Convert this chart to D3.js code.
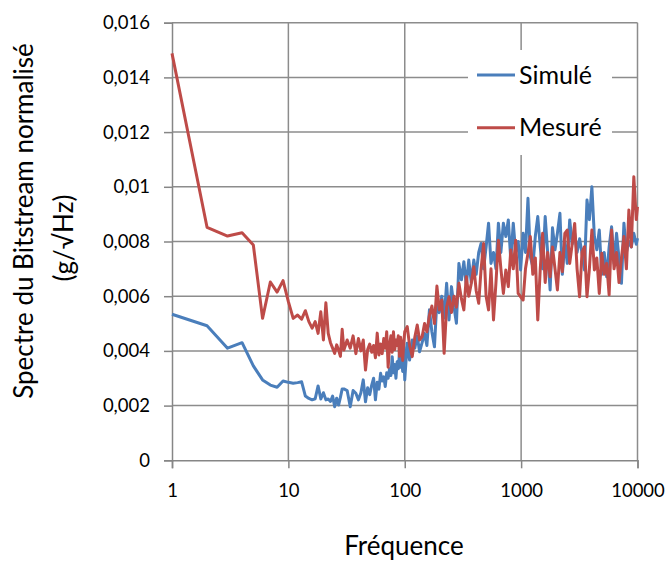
<!DOCTYPE html>
<html lang="fr">
<head>
  <meta charset="UTF-8">
  <title>Spectre du Bitstream</title>
  <style>
    body { margin: 0; background: #fff; }
    text { font-family: Lato, "Open Sans", sans-serif; fill: #000; }
  </style>
</head>
<body>

  <svg id="svg" width="669" height="562"></svg>

  <script src="https://d3js.org/d3.v7.min.js"></script>
  <script>
    // frequencies (Hz)
    const freq = [
      1, 2, 3, 4, 5, 6, 7, 8, 9, 10, 11, 12, 13, 14, 15, 16, 17, 18, 19, 20,
      21, 22, 23, 24, 25, 26, 27, 28, 29, 30,
      32, 34, 36, 38, 40, 42, 44, 46, 48, 50, 52, 54, 56, 58, 60, 62, 64, 66, 68, 70,
      72, 74, 76, 78, 80, 82, 84, 86, 88, 90, 92, 94, 96, 98, 100,
      105, 110, 116, 122, 128, 134, 141, 148, 155, 163, 171, 180, 189, 198, 208, 218,
      229, 240, 252, 265, 278, 292, 307, 322, 338, 355, 373, 392, 411, 432, 453, 476,
      500, 525, 551, 579, 608, 638, 670, 704, 739, 776, 815, 856, 898, 943, 990,
      1040, 1090, 1145, 1200, 1260, 1325, 1390, 1460, 1530, 1610, 1690, 1775, 1860, 1955,
      2050, 2155, 2260, 2375, 2490, 2615, 2745, 2885, 3025, 3180, 3335, 3505, 3680, 3860,
      4055, 4260, 4470, 4695, 4930, 5175, 5435, 5705, 5990, 6290, 6605, 6935, 7280, 7645,
      8030, 8430, 8850, 9295, 9760, 10000
    ]

    const simule = [
      0.00534, 0.00492, 0.00410, 0.00430, 0.00345, 0.00294, 0.00275, 0.00267, 0.00290, 0.00285,
      0.00282, 0.00284, 0.00287, 0.00235, 0.00226, 0.00221, 0.00225, 0.00272, 0.00224, 0.00247,
      0.00221, 0.00224, 0.00215, 0.00235, 0.00196, 0.00227, 0.00202, 0.00230, 0.00261, 0.00261,
      0.00255, 0.00196, 0.00255, 0.00245, 0.00221, 0.00247, 0.00294, 0.00214, 0.00265, 0.00240,
      0.00275, 0.00300, 0.00221, 0.00285, 0.00260, 0.00318, 0.00290, 0.00305, 0.00270, 0.00320,
      0.00300, 0.00335, 0.00310, 0.00379, 0.00320, 0.00350, 0.00300, 0.00360, 0.00335, 0.00390,
      0.00340, 0.00370, 0.00325, 0.00415, 0.00294,
      0.00428, 0.00367, 0.00440, 0.00410, 0.00455, 0.00397, 0.00430, 0.00464, 0.00420, 0.00550,
      0.00470, 0.00415, 0.00586, 0.00540, 0.00600, 0.00520, 0.00647, 0.00513, 0.00635, 0.00560,
      0.00501, 0.00720, 0.00660, 0.00726, 0.00640, 0.00732, 0.00650, 0.00732, 0.00680, 0.00760,
      0.00793, 0.00700, 0.00780, 0.00867, 0.00720, 0.00760, 0.00700, 0.00867, 0.00760, 0.00867,
      0.00818, 0.00879, 0.00732, 0.00867, 0.00760, 0.00800, 0.00696,
      0.00830, 0.00760, 0.00958, 0.00745, 0.00708, 0.00820, 0.00891, 0.00780, 0.00700, 0.00891,
      0.00760, 0.00623, 0.00850, 0.00770, 0.00830, 0.00903, 0.00680, 0.00800, 0.00720, 0.00879,
      0.00790, 0.00830, 0.00760, 0.00810, 0.00757, 0.00696, 0.00952, 0.00880, 0.01000, 0.00818,
      0.00770, 0.00842, 0.00680, 0.00760, 0.00671, 0.00780, 0.00854, 0.00720, 0.00830, 0.00740,
      0.00647, 0.00867, 0.00760, 0.00800, 0.00780, 0.00830, 0.00790, 0.00812
    ]

    const mesure = [
      0.01488, 0.00852, 0.00820, 0.00832, 0.00787, 0.00519, 0.00652, 0.00615, 0.00657, 0.00580,
      0.00519, 0.00531, 0.00516, 0.00547, 0.00507, 0.00483, 0.00507, 0.00464, 0.00543, 0.00440,
      0.00576, 0.00464, 0.00430, 0.00410, 0.00391, 0.00422, 0.00403, 0.00380, 0.00479, 0.00403,
      0.00440, 0.00410, 0.00455, 0.00390, 0.00445, 0.00400, 0.00440, 0.00330, 0.00405, 0.00425,
      0.00395, 0.00420, 0.00375, 0.00465, 0.00385, 0.00425, 0.00390, 0.00445, 0.00410, 0.00470,
      0.00340, 0.00420, 0.00455, 0.00395, 0.00470, 0.00405, 0.00440, 0.00420, 0.00455, 0.00380,
      0.00450, 0.00420, 0.00365, 0.00430, 0.00470,
      0.00489, 0.00420, 0.00379, 0.00450, 0.00495, 0.00440, 0.00452, 0.00500, 0.00470, 0.00530,
      0.00564, 0.00500, 0.00637, 0.00550, 0.00586, 0.00391, 0.00560, 0.00598, 0.00540, 0.00600,
      0.00560, 0.00647, 0.00590, 0.00550, 0.00671, 0.00600, 0.00647, 0.00708, 0.00620, 0.00574,
      0.00700, 0.00793, 0.00600, 0.00550, 0.00700, 0.00513, 0.00650, 0.00805, 0.00700, 0.00610,
      0.00696, 0.00635, 0.00769, 0.00700, 0.00805, 0.00610, 0.00598,
      0.00586, 0.00700, 0.00757, 0.00818, 0.00680, 0.00740, 0.00513, 0.00700, 0.00830, 0.00650,
      0.00760, 0.00671, 0.00780, 0.00700, 0.00623, 0.00760, 0.00690, 0.00830, 0.00842, 0.00720,
      0.00790, 0.00866, 0.00700, 0.00598, 0.00760, 0.00781, 0.00598, 0.00700, 0.00842, 0.00696,
      0.00740, 0.00610, 0.00757, 0.00680, 0.00720, 0.00605, 0.00842, 0.00700, 0.00760, 0.00650,
      0.00740, 0.00818, 0.00700, 0.00915, 0.00780, 0.01037, 0.00880, 0.00927
    ]

    const seriesNames = ['Simulé', 'Mesuré']
    const seriesColors = ['#4a7ebb', '#be4b48']
    const xTicks = [1, 10, 100, 1000, 10000]
    const yTicks = [0, 0.002, 0.004, 0.006, 0.008, 0.01, 0.012, 0.014, 0.016]
    const yTickLabels = ['0', '0,002', '0,004', '0,006', '0,008', '0,01', '0,012', '0,014', '0,016']

    const svg = d3.select('#svg')
    const plotLeft = 172, plotRight = 637.5, plotTop = 22.7, plotBottom = 460.3

    const x = d3.scaleLog().domain([1, 10000]).range([plotLeft, plotRight])
    const y = d3.scaleLinear().domain([0, 0.016]).range([plotBottom, plotTop])

    // grid
    svg.append('g')
      .selectAll('line')
      .data(yTicks.slice(1))
      .join('line')
      .attr('x1', plotLeft).attr('x2', plotRight)
      .attr('y1', d => y(d)).attr('y2', d => y(d))
      .attr('stroke', '#8c8c8c').attr('stroke-width', 1.5)
    svg.append('g')
      .selectAll('line')
      .data(xTicks.slice(1))
      .join('line')
      .attr('x1', d => x(d)).attr('x2', d => x(d))
      .attr('y1', plotTop).attr('y2', plotBottom)
      .attr('stroke', '#8c8c8c').attr('stroke-width', 1.5)

    // axes
    const yAxis = d3.axisLeft(y).tickValues(yTicks)
      .tickFormat((d, i) => yTickLabels[i]).tickSize(8).tickPadding(14)
    const gy = svg.append('g').attr('transform', `translate(${plotLeft},0)`).call(yAxis)
    const xAxis = d3.axisBottom(x).tickValues(xTicks)
      .tickFormat(d3.format('d')).tickSize(8).tickPadding(16)
    const gx = svg.append('g').attr('transform', `translate(0,${plotBottom})`).call(xAxis)
    ;[gx, gy].forEach(g => {
      g.select('.domain').attr('stroke', '#868686').attr('stroke-width', 1.5)
      g.selectAll('.tick line').attr('stroke', '#868686').attr('stroke-width', 1.5)
      g.selectAll('.tick text').attr('font-family', 'Lato').attr('font-size', 18.5).attr('fill', '#000')
    })

    // series
    const line = d3.line().x(d => x(d[0])).y(d => y(d[1]))
    ;[simule, mesure].forEach((vals, i) => {
      svg.append('path')
        .datum(freq.map((f, j) => [f, vals[j]]))
        .attr('d', line)
        .attr('fill', 'none')
        .attr('stroke', seriesColors[i])
        .attr('stroke-width', 3)
        .attr('stroke-linejoin', 'round')
    })

    // legend
    svg.append('rect')
      .attr('x', 468).attr('y', 50).attr('width', 144).attr('height', 105)
      .attr('fill', '#fff')
    const lg = svg.append('g')
      .selectAll('g')
      .data(seriesNames)
      .join('g')
      .attr('transform', (d, i) => `translate(477,${75 + i * 52.7})`)
    lg.append('line')
      .attr('x1', 0).attr('x2', 38)
      .attr('stroke', (d, i) => seriesColors[i]).attr('stroke-width', 3)
    lg.append('text')
      .attr('x', 42).attr('y', 8.5)
      .attr('font-size', 25)
      .text(d => d)

    // titles
    svg.append('text')
      .attr('x', 404).attr('y', 555)
      .attr('text-anchor', 'middle')
      .attr('font-size', 26)
      .text('Fréquence')
    svg.append('text')
      .attr('transform', 'translate(33,221) rotate(-90)')
      .attr('text-anchor', 'middle')
      .attr('font-size', 26)
      .text('Spectre du Bitstream normalisé')
    svg.append('text')
      .attr('transform', 'translate(73,238) rotate(-90)')
      .attr('text-anchor', 'middle')
      .attr('font-size', 26)
      .text('(g/√Hz)')
  </script>
</body>
</html>
